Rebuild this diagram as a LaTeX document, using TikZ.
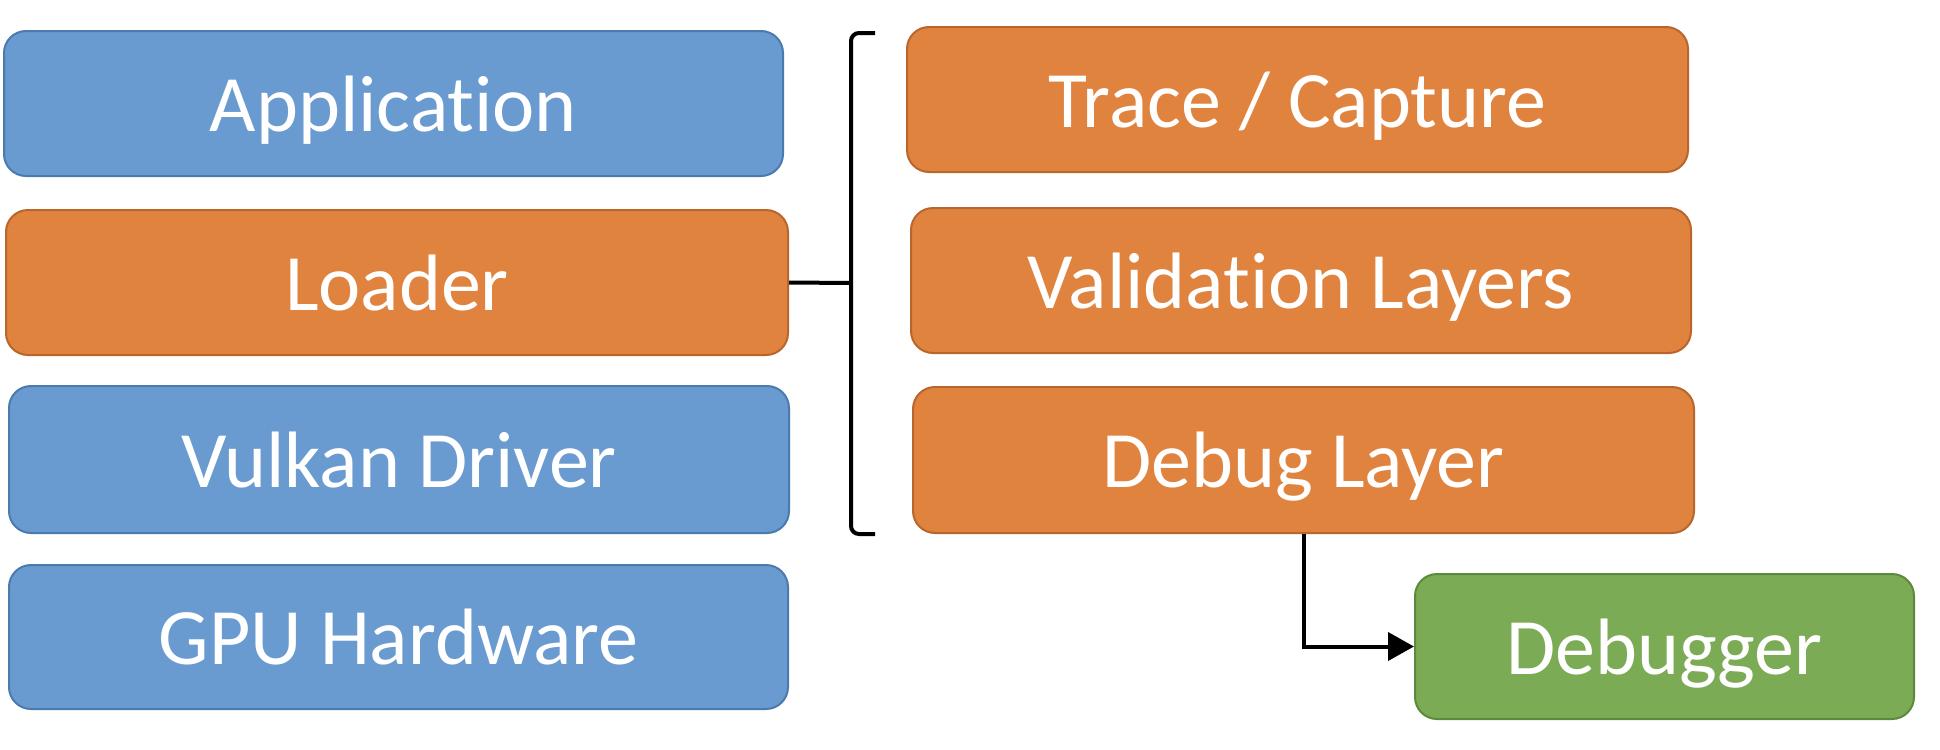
\documentclass[tikz,border=0pt]{standalone}
\usepackage{fontspec}
\setmainfont{Carlito}[Ligatures=NoCommon]
\usetikzlibrary{arrows.meta}
\definecolor{boxblue}{HTML}{6A9BD0}
\definecolor{boxblueline}{HTML}{4A7AAE}
\definecolor{boxorange}{HTML}{E0833F}
\definecolor{boxorangeline}{HTML}{B8662C}
\definecolor{boxgreen}{HTML}{7CAB55}
\definecolor{boxgreenline}{HTML}{5C8A3C}
\tikzset{
  layerbox/.style={rectangle, rounded corners=11pt, line width=1pt, text=white,
    font=\fontsize{40}{48}\selectfont, inner sep=0pt, anchor=center,
    text height=27.5pt, text depth=0pt},
  bluebox/.style={layerbox, fill=boxblue, draw=boxblueline},
  orangebox/.style={layerbox, fill=boxorange, draw=boxorangeline},
  greenbox/.style={layerbox, fill=boxgreen, draw=boxgreenline},
  bracketline/.style={line width=2pt, black},
}
\begin{document}
\begin{tikzpicture}[x=0.5pt,y=-0.5pt]
\useasboundingbox[fill=white] (0,0) rectangle (1940,750);
\node[bluebox, minimum width=389.5pt, minimum height=72.5pt] (app) at (393.5,103.5) {Application};
\node[orangebox, minimum width=391pt, minimum height=72.5pt] (loader) at (397,282.5) {Loader};
\node[bluebox, minimum width=390pt, minimum height=73.5pt] (vulkan) at (399,459.5) {Vulkan Driver};
\node[bluebox, minimum width=389.5pt, minimum height=72pt] (gpu) at (398.5,637) {GPU Hardware};
\node[orangebox, minimum width=390.5pt, minimum height=72.5pt] (trace) at (1297.5,99.5) {Trace / Capture};
\node[orangebox, minimum width=390pt, minimum height=72.5pt] (valid) at (1301,280.5) {Validation Layers};
\node[orangebox, minimum width=390.5pt, minimum height=73pt] (debug) at (1303.5,460) {Debug Layer};
\node[greenbox, minimum width=249.5pt, minimum height=72.5pt] (debugger) at (1664.5,646.5) {Debugger};
\coordinate (brtop) at (875,33);
\coordinate (brbot) at (875,534);
\coordinate (brmid) at (851,283);
\draw[bracketline, rounded corners=4pt] (brtop) -- (851,33) -- (851,534) -- (brbot);
\draw[bracketline] (loader.east) -- (brmid);
\draw[line width=2pt, -{Triangle[length=13pt,width=14pt]}] (debug.south) |- (debugger.west);
\end{tikzpicture}
\end{document}
